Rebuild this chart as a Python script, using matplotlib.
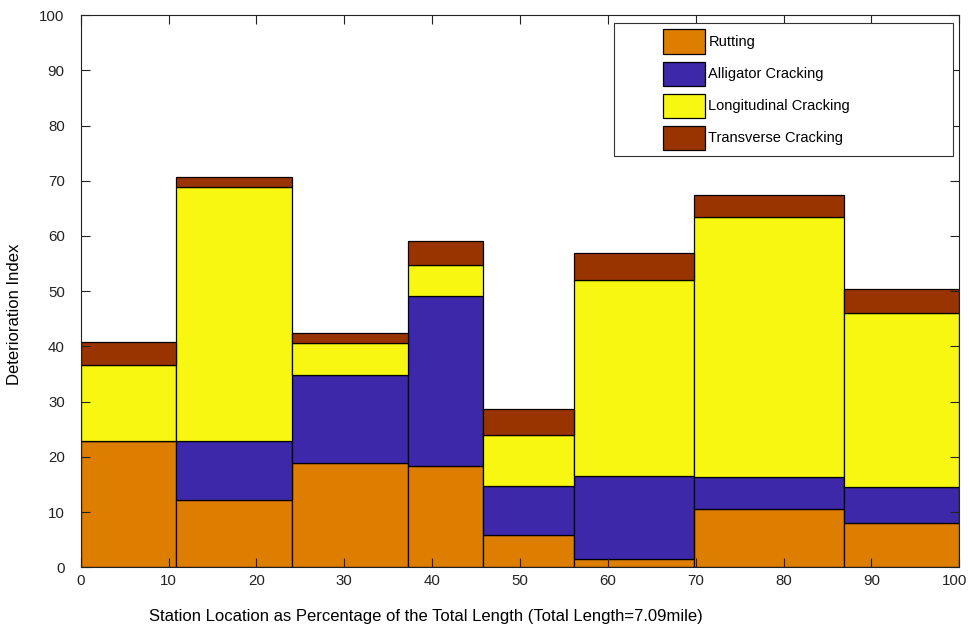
import numpy as np
import matplotlib
matplotlib.use("Agg")
import matplotlib.pyplot as plt
from matplotlib.patches import Rectangle
from matplotlib.transforms import ScaledTranslation

plt.rcParams['font.family'] = ['Liberation Sans', 'DejaVu Sans']

# Segment boundaries (% of total length)
edges = [0, 10.8, 24.1, 37.3, 45.8, 56.2, 69.8, 86.9, 100]
categories = ["Rutting", "Alligator Cracking", "Longitudinal Cracking", "Transverse Cracking"]
rutting = [22.9, 12.2, 18.8, 18.4, 5.9, 1.5, 10.5, 8.0]
alligator = [0.0, 10.7, 16.1, 30.7, 8.8, 15.0, 5.9, 6.6]
longitudinal = [13.8, 46.0, 5.8, 5.6, 9.3, 35.5, 47.1, 31.5]
transverse = [4.1, 1.7, 1.7, 4.4, 4.7, 5.0, 3.9, 4.3]
colors = ["#DD7E00", "#3C28A8", "#F7F711", "#993300"]

fig = plt.figure(figsize=(9.69, 6.31), dpi=100)
ax = fig.add_axes([0.0833, 0.101, 0.9067, 0.875])

left = np.array(edges[:-1])
widths = np.diff(edges)
bottom = np.zeros(len(left))
handles = []
for vals, col, name in zip([rutting, alligator, longitudinal, transverse], colors, categories):
    vals = np.array(vals)
    h = ax.bar(left, vals, width=widths, bottom=bottom, align='edge', color=col,
               edgecolor='black', linewidth=0.9, label=name)
    handles.append(h)
    bottom += vals

ax.set_xlim(0, 100)
ax.set_ylim(0, 100)
ax.set_xticks(np.arange(0, 101, 10))
ax.set_yticks(np.arange(0, 101, 10))
ax.tick_params(axis='both', direction='in', length=6.5, width=0.8, top=True, right=True,
               labelsize=10.8, colors='#222222')
ax.tick_params(axis='y', pad=11.5)
ax.tick_params(axis='x', pad=5)
for s in ax.spines.values():
    s.set_linewidth(0.8)
    s.set_color('#222222')

fig.canvas.draw()
last = ax.get_xticklabels()[-1]
last.set_transform(last.get_transform() + ScaledTranslation(-5 / 100, 0, fig.dpi_scale_trans))

fig.text(15 / 969, 1 - 314 / 631, "Deterioration Index", rotation=90, ha='center', va='center',
         fontsize=12)
fig.text(425.5 / 969, 1 - 617 / 631,
         "Station Location as Percentage of the Total Length (Total Length=7.09mile)",
         ha='center', va='center', fontsize=12)

# legend box
ax.add_patch(Rectangle((614 / 969, 1 - 155.7 / 631), (952.7 - 614) / 969, (155.7 - 23.3) / 631,
                       transform=fig.transFigure, facecolor='white', edgecolor='#333333',
                       linewidth=0.8, zorder=4, clip_on=False))
leg = ax.legend(handles=handles, loc='upper left', bbox_to_anchor=(663 / 969, 1 - 29.5 / 631),
                bbox_transform=fig.transFigure, frameon=False, fontsize=10.5,
                handlelength=2.9, handleheight=2.16, labelspacing=0.55, handletextpad=0.22,
                borderpad=0, borderaxespad=0)
leg.set_zorder(5)

fig.savefig("out.png", dpi=100)
